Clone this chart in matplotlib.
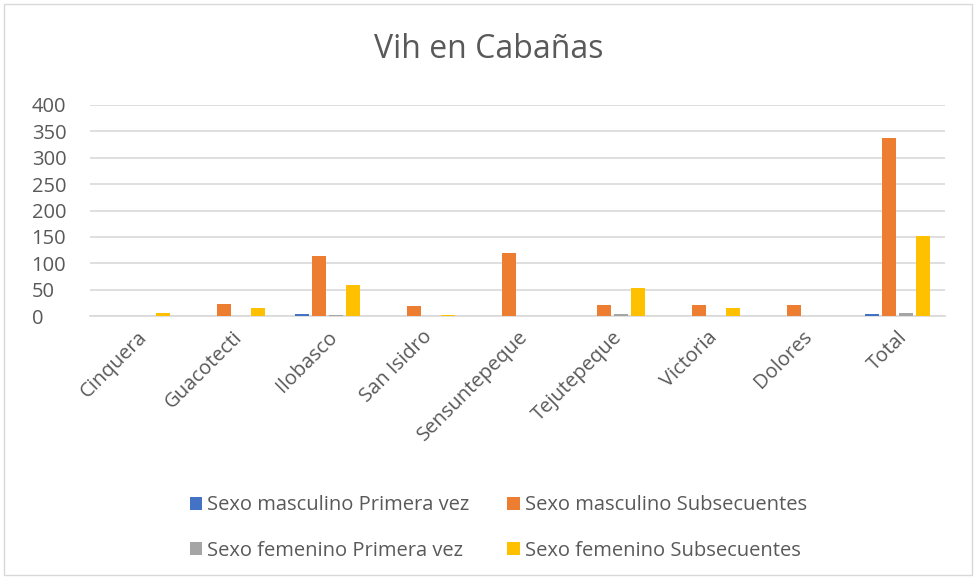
import matplotlib
matplotlib.use("Agg")
import matplotlib.pyplot as plt
import numpy as np
from matplotlib.patches import Rectangle

categories = ["Cinquera", "Guacotecti", "Ilobasco", "San Isidro", "Sensuntepeque",
              "Tejutepeque", "Victoria", "Dolores", "Total"]
masc_primera = [0, 0, 4, 0, 0, 0, 0, 0, 4]
masc_subsec = [0, 22, 114, 19, 120, 21, 21, 21, 338]
fem_primera = [0, 0, 2, 0, 0, 3, 0, 0, 5]
fem_subsec = [6, 15, 59, 2, 0, 54, 15, 0, 152]
series_names = ["Sexo masculino Primera vez", "Sexo masculino Subsecuentes",
                "Sexo femenino Primera vez", "Sexo femenino Subsecuentes"]
colors = ["#4472C4", "#ED7D31", "#A5A5A5", "#FFC000"]

plt.rcParams['font.family'] = ['Open Sans', 'DejaVu Sans']

fig = plt.figure(figsize=(9.77, 5.79), dpi=100)
ax = fig.add_axes([90/977, 1-316/579, 855/977, 211/579])

x = np.arange(len(categories))
pitch = 0.18
width = 0.147
data = [masc_primera, masc_subsec, fem_primera, fem_subsec]
for i, (vals, c, n) in enumerate(zip(data, colors, series_names)):
    ax.bar(x + (i - 1.5) * pitch, vals, width=width, color=c, label=n, zorder=3)

ax.set_xlim(-0.5, len(categories) - 0.5)
ax.set_ylim(0, 400)
ax.set_yticks(range(0, 401, 50))
ax.yaxis.grid(True, color="#d9d9d9", linewidth=1.2, zorder=0)
for s in ["top", "right", "left"]:
    ax.spines[s].set_visible(False)
ax.spines["bottom"].set_color("#d9d9d9")
ax.spines["bottom"].set_linewidth(1.2)
ax.tick_params(axis="both", length=0, colors="#595959", labelsize=14.5)
ax.tick_params(axis="y", pad=42)
ax.set_xticks(x)
ax.set_xticklabels(categories, rotation=45, ha="right", rotation_mode="anchor")
for lbl in ax.get_yticklabels():
    lbl.set_horizontalalignment("left")
ax.tick_params(axis="x", pad=8)

fig.text(0.5, 1-50/579, "Vih en Cabañas", ha="center", va="center",
         fontsize=23, color="#595959")

handles, labels = ax.get_legend_handles_labels()
order = [0, 2, 1, 3]
leg = fig.legend([handles[i] for i in order], [labels[i] for i in order],
                 loc="center", bbox_to_anchor=(0.51, 1-528/579),
                 ncol=2, frameon=False, fontsize=14.5, handlelength=0.6,
                 handleheight=0.6, handletextpad=0.25, columnspacing=1.9,
                 labelspacing=1.25)
for t in leg.get_texts():
    t.set_color("#595959")

fig.patches.append(Rectangle((4/977, 4/579), 968/977, 571/579, transform=fig.transFigure,
                             fill=False, edgecolor="#d9d9d9", linewidth=1))

fig.savefig("out.png", dpi=100)
